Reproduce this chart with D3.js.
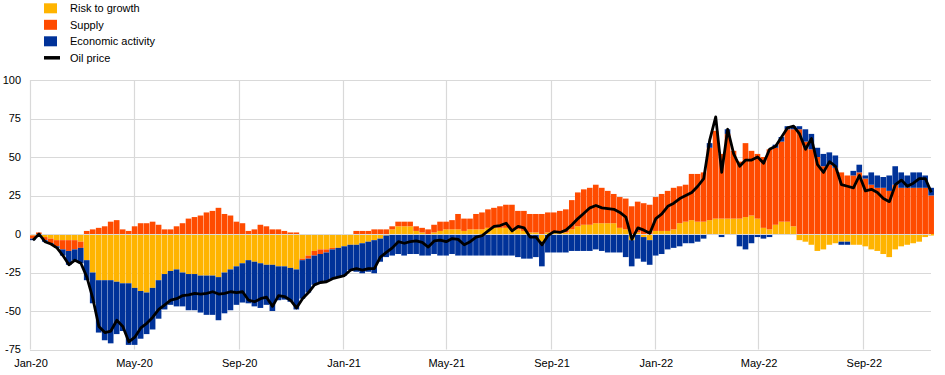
<!DOCTYPE html>
<html><head><meta charset="utf-8">
<script src="https://cdn.jsdelivr.net/npm/d3@7"></script>
<style>
body{margin:0;background:#fff}
svg{display:block}
text{font-family:"Liberation Sans",Arial,sans-serif;font-size:11px;fill:#000}
</style>
</head><body><svg id="chart" width="945" height="375"></svg>
<script>
// weekly observations starting on this date
const startDate = "2020-01-01";

const risk = [-1,-1,-2,-3,-4,-4,-4,-4,-5,-17,-25,-30,-30,-30,-31,-32,-32,-35,-37,-38,
-35,-30,-26,-24,-23,-25,-26,-26,-27,-27,-27,-28,-25,-23,-21,-19,-17,-18,-19,-20,
-20,-21,-21,-22,-23,-16,-14,-11,-10,-10,-9,-9,-8,-7,-7,-6,-5,-4,-3,-1,
3,5,5,5,2,1,0,1,2,3,3,3,2,3,3,3,4,4,4,4,
3,3,2,1,1,-5,1,1,1,1,3,5,6,6,7,7,7,7,4,3,
-4,1,-2,-4,2,2,2,3,7,8,9,8,8,9,10,10,10,10,10,11,
12,10,4,3,6,8,8,5,-4,-5,-7,-11,-10,-7,-6,-5,-5,-7,-7,-8,
-10,-11,-13,-15,-10,-8,-7,-6,-5,-2,-1];

const supply = [-2,1,-2,-3,-4,-6,-7,-6,-4,2,3,4,5,8,9,3,2,5,7,7,
8,6,3,3,5,7,10,11,12,14,15,17,13,12,8,7,2,3,6,5,
3,3,2,1,1,-1,-2,-3,-3,-2,-1,0,0,0,2,2,2,3,3,3,
2,3,3,3,3,3,3,5,6,5,6,10,8,7,10,11,12,13,14,15,
16,12,13,12,12,13,13,13,14,15,19,22,23,24,25,23,21,19,20,20,
18,20,20,19,22,24,26,27,24,24,30,31,32,47,57,42,55,44,37,48,
42,42,46,52,50,52,60,63,68,60,55,50,44,45,43,40,38,38,40,36,
32,30,30,28,32,30,30,30,30,30,25];

const activity = [-1,0,-1,-0.5,-1,-4,-9,-7,-10,-13,-20,-34,-39,-41,-34,-31,-40,-37,-31,-27,
-27,-25,-23,-22,-24,-22,-23.5,-23.5,-24,-25.5,-25.5,-28,-26.5,-26.5,-25,-25.5,-28,-29,-29,-26,
-30,-22,-21.6,-22,-26,-25,-22,-19,-18.5,-19,-19,-19,-19,-16.5,-17.5,-19.5,-19.5,-21.5,-15,-14,
-14,-13,-14,-13,-13,-14,-14,-13,-14,-14,-13,-14,-14,-14,-14,-14,-14,-14,-14,-14,
-14,-15,-16,-16,-15,-16,-12,-12,-12,-12,-11,-11,-11,-11,-10,-11,-12,-12,-12,-15,
-17,-16,-16,-16,-14,-13,-10,-9,-8,-6,-6,-5,-3,3,0,-2,3,0,-8,-10,
-6,-2,-3,-2,2,3,2,2,2,8,10,6,8,8,8,-2,-2,3,5,2,
8,8,7,10,12,10,8,10,10,8,5];

const oil = [-4,0,-5,-6.5,-9,-14,-20,-17,-19,-28,-42,-60,-64,-63,-56,-60,-70,-67,-61,-58,
-54,-49,-46,-43,-42,-40,-39.5,-38.5,-39,-38.5,-37.5,-39,-38.5,-37.5,-38,-37.5,-43,-44,-42,-41,
-47,-40,-40.6,-43,-48,-42,-38,-33,-31.5,-31,-29,-28,-27,-23.5,-22.5,-23.5,-22.5,-22.5,-15,-12,
-9,-5,-6,-5,-4.5,-5.5,-8.5,-4.5,-4,-5,-3,-3.5,-7,-5,-2,-1,2,5,5.5,7,
2,5,4,-2,-2,-7,-1,1.5,1,2.5,6,10,13.5,17,18.5,17,16.5,16,14,11,
-3.5,4,2.5,0.5,10,13,18,20,23,25,27,31,36,61,76,40,68,52,44,48,
48,50,46,55,57,63,69,70,65,55,62,45,40,47,44,32,31,30,38,28,
29,27,23,21,32,35,31,33,36,36,27];

const seriesNames = ["Risk to growth","Supply","Economic activity","Oil price"];
const seriesColors = ["#FFB400","#FF4B00","#003299","#000000"];
const yTicks = [100,75,50,25,0,-25,-50,-75];
const xTickLabels = ["Jan-20","May-20","Sep-20","Jan-21","May-21","Sep-21","Jan-22","May-22","Sep-22"];

const svg = d3.select("#chart");
const parse = d3.timeParse("%Y-%m-%d");
const start = parse(startDate);
const data = risk.map((r,i)=>({date:d3.timeDay.offset(start,7*i), risk:r, supply:supply[i], activity:activity[i], oil:oil[i]}));

const x = d3.scaleTime().domain([new Date(2020,0,1), new Date(2022,8,1)]).range([30,863.3]);
const y = d3.scaleLinear().domain([-75,100]).range([349.5,80]);
const plotRight = 931;

// grid
const tickParse = d3.timeParse("%b-%y");
const xTicks = xTickLabels.map(l=>tickParse(l));
svg.append("g").selectAll("line").data(yTicks).join("line")
  .attr("x1",30).attr("x2",plotRight)
  .attr("y1",d=>Math.round(y(d))+0.5).attr("y2",d=>Math.round(y(d))+0.5)
  .attr("stroke","#d9d9d9").attr("stroke-width",1.2);
svg.append("g").selectAll("line").data(xTicks).join("line")
  .attr("x1",d=>Math.round(x(d))+0.5).attr("x2",d=>Math.round(x(d))+0.5)
  .attr("y1",y(100)).attr("y2",y(-75))
  .attr("stroke","#d9d9d9").attr("stroke-width",1.2);

// stacked bars
const keys = ["risk","supply","activity"];
const stack = d3.stack().keys(keys).offset(d3.stackOffsetDiverging)(data);
svg.append("g").selectAll("g").data(stack).join("g")
  .attr("fill",(d,i)=>seriesColors[i])
  .selectAll("rect").data(d=>d).join("rect")
  .attr("x",d=>x(d.data.date))
  .attr("width",d=>x(d3.timeDay.offset(d.data.date,7))-x(d.data.date)-0.35)
  .attr("y",d=>y(Math.max(d[0],d[1])))
  .attr("height",d=>Math.abs(y(d[0])-y(d[1])));

// zero line on top
svg.append("line").attr("x1",30).attr("x2",plotRight)
  .attr("y1",Math.round(y(0))+0.5).attr("y2",Math.round(y(0))+0.5)
  .attr("stroke","#d9d9d9").attr("stroke-width",1.2);

// oil line
const line = d3.line()
  .x(d=>x(d3.timeHour.offset(d.date,84)))
  .y(d=>y(d.oil));
svg.append("path").datum(data).attr("d",line)
  .attr("fill","none").attr("stroke","#000").attr("stroke-width",2.8)
  .attr("stroke-linejoin","round");

// axes labels
svg.append("g").selectAll("text").data(yTicks).join("text")
  .attr("x",21).attr("y",d=>y(d)).attr("dy","0.35em")
  .attr("text-anchor","end").text(d=>d);
svg.append("g").selectAll("text").data(xTicks).join("text")
  .attr("x",d=>x(d)+1).attr("y",367)
  .attr("text-anchor","middle").text((d,i)=>xTickLabels[i]);

// legend
const lg = svg.append("g");
seriesNames.forEach((n,i)=>{
  const cy = 8.3 + i*16.5;
  if(i<3){
    lg.append("rect").attr("x",44).attr("y",cy-5).attr("width",13).attr("height",10).attr("fill",seriesColors[i]);
  } else {
    lg.append("line").attr("x1",44).attr("x2",60).attr("y1",cy).attr("y2",cy)
      .attr("stroke","#000").attr("stroke-width",3.5);
  }
  lg.append("text").attr("x",70).attr("y",cy).attr("dy","0.35em").text(n);
});
</script>
</body></html>
